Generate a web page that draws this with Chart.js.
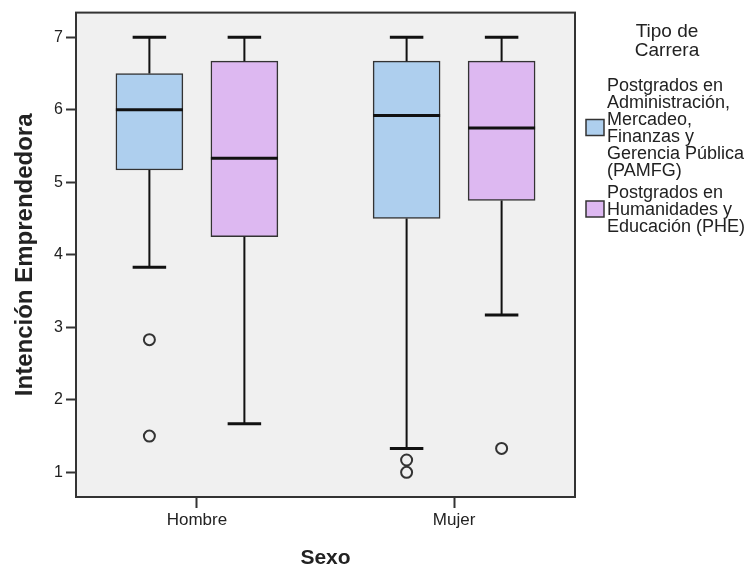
<!DOCTYPE html>
<html>
<head>
<meta charset="utf-8">
<script src="https://cdn.jsdelivr.net/npm/chart.js@4/dist/chart.umd.min.js"></script>
<style>
	html, body { margin: 0; padding: 0; background: #fff; }
	#wrap { width: 747px; height: 569px; }
</style>
</head>
<body>
<div id="wrap"><canvas id="myChart" width="747" height="569"></canvas></div>
<script>
// data
const categories = ['Hombre', 'Mujer'];
const yTicks = [1, 2, 3, 4, 5, 6, 7];

const legendTitle = ['Tipo de', 'Carrera'];
const pamfgLabel = ['Postgrados en', 'Administración,', 'Mercadeo,', 'Finanzas y', 'Gerencia Pública', '(PAMFG)'];
const pheLabel = ['Postgrados en', 'Humanidades y', 'Educación (PHE)'];

const pamfgMin = [3.83, 1.33];
const pamfgQ1 = [5.17, 4.5];
const pamfgMedian = [6.0, 5.92];
const pamfgQ3 = [6.5, 6.67];
const pamfgMax = [7, 7];
const pamfgOutliers = [[2.83, 1.5], [1.17, 1.0]];

const pheMin = [1.67, 3.17];
const pheQ1 = [4.25, 4.75];
const pheMedian = [5.33, 5.75];
const pheQ3 = [6.67, 6.67];
const pheMax = [7, 7];
const pheOutliers = [[], [1.33]];

const PAMFG_COLOR = '#aecfee';
const PHE_COLOR = '#ddb8f1';
const INK = '#222';
const FONT = '"Liberation Sans", Arial, sans-serif';

function boxData(q1, q3) {
	return categories.map((c, i) => ({ x: i + 1, y: [q1[i], q3[i]] }));
}

const boxStats = [
	{ min: pamfgMin, median: pamfgMedian, max: pamfgMax, q1: pamfgQ1, q3: pamfgQ3, outliers: pamfgOutliers },
	{ min: pheMin, median: pheMedian, max: pheMax, q1: pheQ1, q3: pheQ3, outliers: pheOutliers }
];

// plot background + frame
const framePlugin = {
	id: 'frame',
	beforeDraw(chart) {
		const { ctx, chartArea: a } = chart;
		ctx.save();
		ctx.fillStyle = '#f0f0f0';
		ctx.fillRect(a.left, a.top, a.right - a.left, a.bottom - a.top);
		ctx.restore();
	},
	afterDraw(chart) {
		const { ctx, chartArea: a } = chart;
		ctx.save();
		ctx.strokeStyle = '#333';
		ctx.lineWidth = 2;
		ctx.strokeRect(a.left, a.top, a.right - a.left, a.bottom - a.top);
		ctx.restore();
	}
};

// whiskers, medians and outliers on top of the floating bars
const boxPlotPlugin = {
	id: 'boxPlot',
	afterDatasetsDraw(chart) {
		const ctx = chart.ctx;
		const y = chart.scales.y;
		ctx.save();
		boxStats.forEach((s, di) => {
			const meta = chart.getDatasetMeta(di);
			meta.data.forEach((bar, i) => {
				const cx = bar.x;
				const half = bar.width / 2;
				const capHalf = bar.width / 4;
				ctx.strokeStyle = '#111';
				// whiskers
				ctx.lineWidth = 2;
				ctx.beginPath();
				ctx.moveTo(cx, y.getPixelForValue(s.q3[i]));
				ctx.lineTo(cx, y.getPixelForValue(s.max[i]));
				ctx.moveTo(cx, y.getPixelForValue(s.q1[i]));
				ctx.lineTo(cx, y.getPixelForValue(s.min[i]));
				ctx.stroke();
				// caps
				ctx.lineWidth = 3;
				ctx.beginPath();
				[s.max[i], s.min[i]].forEach(v => {
					const py = y.getPixelForValue(v);
					ctx.moveTo(cx - capHalf, py);
					ctx.lineTo(cx + capHalf, py);
				});
				ctx.stroke();
				// median
				ctx.lineWidth = 3;
				ctx.beginPath();
				const my = y.getPixelForValue(s.median[i]);
				ctx.moveTo(cx - half, my);
				ctx.lineTo(cx + half, my);
				ctx.stroke();
				// outliers
				ctx.strokeStyle = '#333';
				ctx.lineWidth = 2;
				s.outliers[i].forEach(v => {
					ctx.beginPath();
					ctx.arc(cx, y.getPixelForValue(v), 5.5, 0, Math.PI * 2);
					ctx.stroke();
				});
			});
		});
		ctx.restore();
	}
};

// legend at the right, multi-line labels
const sideLegendPlugin = {
	id: 'sideLegend',
	afterDraw(chart) {
		const ctx = chart.ctx;
		const left = chart.chartArea.right + 11;
		ctx.save();
		ctx.fillStyle = INK;
		ctx.textBaseline = 'middle';
		ctx.textAlign = 'center';
		ctx.font = '19px ' + FONT;
		legendTitle.forEach((t, k) => ctx.fillText(t, left + 81, 32 + k * 19));

		const items = [
			{ lines: pamfgLabel, color: PAMFG_COLOR, top: 86 },
			{ lines: pheLabel, color: PHE_COLOR, top: 193 }
		];
		ctx.font = '18px ' + FONT;
		ctx.textAlign = 'left';
		items.forEach(item => {
			item.lines.forEach((t, k) => ctx.fillText(t, left + 21, item.top + k * 17));
			const mid = item.top + (item.lines.length - 1) * 17 / 2;
			ctx.fillStyle = item.color;
			ctx.fillRect(left, mid - 9, 18, 16);
			ctx.strokeStyle = '#333';
			ctx.lineWidth = 1.5;
			ctx.strokeRect(left, mid - 9, 18, 16);
			ctx.fillStyle = INK;
		});
		ctx.restore();
	}
};

const ctx = document.getElementById('myChart').getContext('2d');
const myChart = new Chart(ctx, {
	type: 'bar',
	data: {
		datasets: [
			{
				label: pamfgLabel.join(' '),
				data: boxData(pamfgQ1, pamfgQ3),
				backgroundColor: PAMFG_COLOR,
				borderColor: '#333',
				borderWidth: 1.5,
				borderSkipped: false,
				barThickness: 95,
				maxBarThickness: 67
			},
			{
				label: pheLabel.join(' '),
				data: boxData(pheQ1, pheQ3),
				backgroundColor: PHE_COLOR,
				borderColor: '#333',
				borderWidth: 1.5,
				borderSkipped: false,
				barThickness: 95,
				maxBarThickness: 67
			}
		]
	},
	options: {
		responsive: false,
		animation: false,
		layout: { padding: { left: 0, top: 8, right: 172, bottom: 0 } },
		plugins: {
			legend: { display: false },
			tooltip: { enabled: false }
		},
		scales: {
			x: {
				type: 'linear',
				offset: false,
				min: 0.53,
				max: 2.47,
				afterBuildTicks: (scale) => {
					scale.ticks = categories.map((c, i) => ({ value: i + 1 }));
				},
				afterFit: (scale) => { scale.height = 72; },
				ticks: {
					callback: (value) => categories[value - 1],
					color: INK,
					font: { family: FONT, size: 17 },
					padding: 2,
					maxRotation: 0
				},
				grid: {
					offset: false,
					drawOnChartArea: false,
					drawTicks: true,
					tickLength: 11,
					tickWidth: 2,
					tickColor: '#333'
				},
				border: { display: false },
				title: {
					display: true,
					text: 'Sexo',
					color: INK,
					font: { family: FONT, size: 21, weight: 'bold', lineHeight: 1.05 },
					padding: { top: 0, bottom: 0 }
				}
			},
			y: {
				type: 'linear',
				min: 0.66,
				max: 7.34,
				afterBuildTicks: (scale) => {
					scale.ticks = yTicks.map(v => ({ value: v }));
				},
				afterFit: (scale) => { scale.width = 76; },
				ticks: {
					color: INK,
					font: { family: FONT, size: 16 },
					padding: 3
				},
				grid: {
					drawOnChartArea: false,
					drawTicks: true,
					tickLength: 10,
					tickWidth: 2,
					tickColor: '#333'
				},
				border: { display: false },
				title: {
					display: true,
					text: 'Intención Emprendedora',
					color: INK,
					font: { family: FONT, size: 24, weight: 'bold' },
					padding: { top: 11, bottom: 0 }
				}
			}
		}
	},
	plugins: [framePlugin, boxPlotPlugin, sideLegendPlugin]
});
</script>
</body>
</html>
